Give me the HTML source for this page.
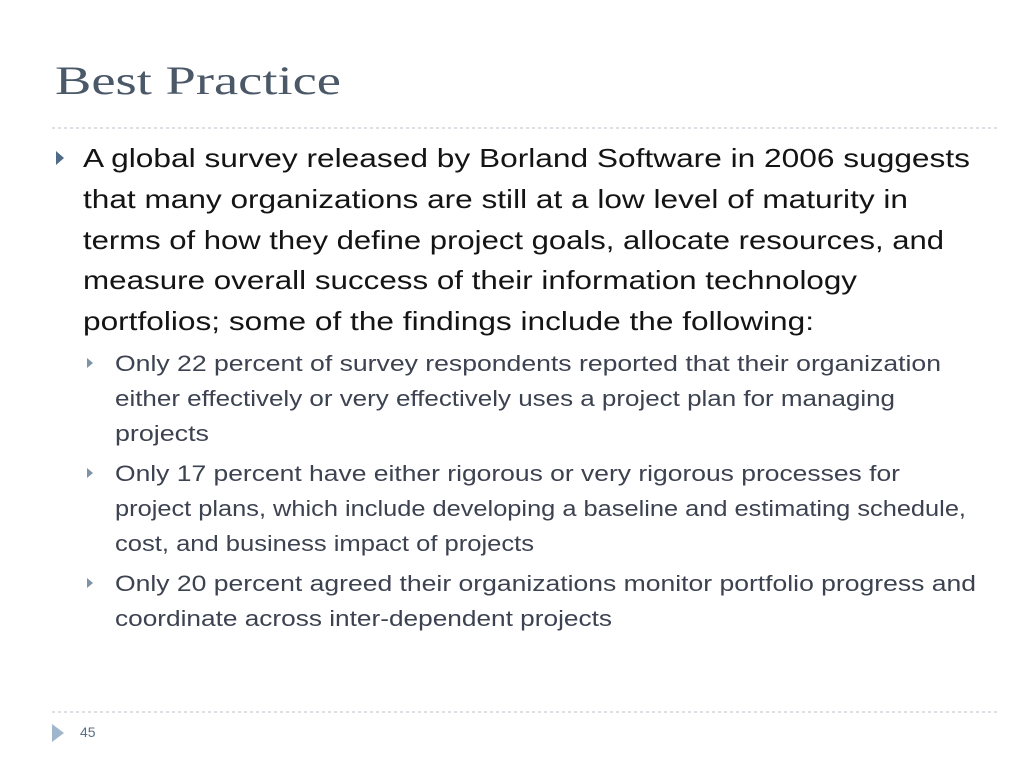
<!DOCTYPE html>
<html><head><meta charset="utf-8"><style>
html,body{margin:0;padding:0;background:#fff;width:1024px;height:768px;overflow:hidden}
svg{display:block}
</style></head><body>
<svg width="1024" height="768" viewBox="0 0 1024 768">
<text x="55" y="94" font-family="Liberation Serif, serif" font-size="40" fill="#4b5868" textLength="286" lengthAdjust="spacingAndGlyphs">Best Practice</text>
<line x1="52" y1="128" x2="1000" y2="128" stroke="#b8c0c8" stroke-width="1" stroke-dasharray="3,3"/>

<polygon points="56,151 56,165 64,158" fill="#4e6a88"/>
<g font-family="Liberation Sans, sans-serif" font-size="26" fill="#141414">
<text x="83" y="167" textLength="887" lengthAdjust="spacingAndGlyphs">A global survey released by Borland Software in 2006 suggests</text>
<text x="83" y="208" textLength="825" lengthAdjust="spacingAndGlyphs">that many organizations are still at a low level of maturity in</text>
<text x="83" y="249" textLength="861" lengthAdjust="spacingAndGlyphs">terms of how they define project goals, allocate resources, and</text>
<text x="83" y="289" textLength="774" lengthAdjust="spacingAndGlyphs">measure overall success of their information technology</text>
<text x="83" y="330" textLength="731" lengthAdjust="spacingAndGlyphs">portfolios; some of the findings include the following:</text>
</g>

<g fill="#7f93a8">
<polygon points="87,358 87,368 93,363"/>
<polygon points="87,468 87,478 93,473"/>
<polygon points="87,578 87,588 93,583"/>
</g>
<g font-family="Liberation Sans, sans-serif" font-size="22" fill="#3c4250">
<text x="115" y="371" textLength="826" lengthAdjust="spacingAndGlyphs">Only 22 percent of survey respondents reported that their organization</text>
<text x="115" y="406" textLength="780" lengthAdjust="spacingAndGlyphs">either effectively or very effectively uses a project plan for managing</text>
<text x="115" y="441" textLength="94" lengthAdjust="spacingAndGlyphs">projects</text>
<text x="115" y="481" textLength="785" lengthAdjust="spacingAndGlyphs">Only 17 percent have either rigorous or very rigorous processes for</text>
<text x="115" y="516" textLength="851" lengthAdjust="spacingAndGlyphs">project plans, which include developing a baseline and estimating schedule,</text>
<text x="115" y="551" textLength="419" lengthAdjust="spacingAndGlyphs">cost, and business impact of projects</text>
<text x="115" y="591" textLength="861" lengthAdjust="spacingAndGlyphs">Only 20 percent agreed their organizations monitor portfolio progress and</text>
<text x="115" y="626" textLength="497" lengthAdjust="spacingAndGlyphs">coordinate across inter-dependent projects</text>
</g>

<line x1="52" y1="712" x2="1000" y2="712" stroke="#b8c0c8" stroke-width="1" stroke-dasharray="3,3"/>
<polygon points="52,724 52,742 64,733" fill="#9fb6cc"/>
<text x="80" y="737" font-family="Liberation Sans, sans-serif" font-size="14" fill="#5a6e84">45</text>
</svg>
</body></html>
